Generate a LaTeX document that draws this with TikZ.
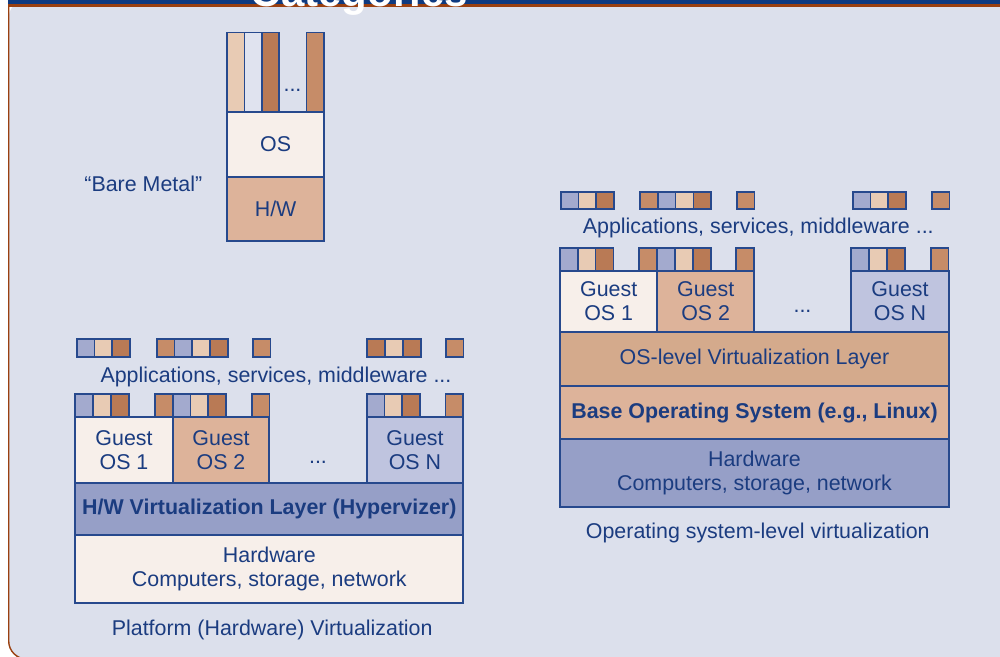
\documentclass[tikz,border=0pt]{standalone}
\usepackage{fontspec}
\setmainfont{Liberation Sans}
\usetikzlibrary{positioning}

\definecolor{bgpanel}{HTML}{DCE0EC}
\definecolor{hdrblue}{HTML}{0E3A80}
\definecolor{frame}{HTML}{9A4010}
\definecolor{edge}{HTML}{27498D}
\definecolor{ink}{HTML}{1B3C80}
\definecolor{cellblue}{HTML}{A3AACE}
\definecolor{cellpeach}{HTML}{E8CBB4}
\definecolor{celldark}{HTML}{B97A55}
\definecolor{celllight}{HTML}{C68C68}
\definecolor{pale}{HTML}{E0E3EF}
\definecolor{cream}{HTML}{F7EFEA}
\definecolor{salmon}{HTML}{DDB39A}
\definecolor{clay}{HTML}{D4AA8C}
\definecolor{steel}{HTML}{969FC7}
\definecolor{lilac}{HTML}{BFC4DF}

\begin{document}
\begin{tikzpicture}[x=0.5pt, y=-0.5pt,
    font=\fontsize{10.7}{12}\selectfont, text=ink,
    cell/.style={draw=edge, line width=0.85pt, inner sep=0pt, outer sep=0pt,
      minimum width=8.9pt, anchor=north west},
    layer/.style={draw=edge, line width=0.85pt, inner sep=0pt, outer sep=0pt,
      align=center},
    caption/.style={anchor=base}]

    % Panel

    \fill[white] (0,0) rectangle (1000,657);
    \useasboundingbox (0,0) rectangle (1000,657);
    \fill[bgpanel, rounded corners=9pt] (8.7,0) rectangle (1030,659);
    \draw[frame, line width=0.7pt, rounded corners=9pt] (8.7,7) -- (8.7,659) -- (1030,659);
    \fill[hdrblue] (8,0) rectangle (1000,4.3);
    \fill[frame] (8,4.3) rectangle (1000,7.3);
    \node[font=\bfseries\fontsize{21}{24}\selectfont, text=white, anchor=base]
      (title) at (359.5,7) {Categories};

    % Bare metal

    \foreach \x/\c [count=\i] in {227.3/cellpeach, 244.6/pale, 261.9/celldark, 306.6/celllight}
      \node[cell, fill=\c, minimum width=8.65pt, minimum height=39.75pt] (bar\i) at (\x,32.5) {}; %
    \node[caption] (dotsbm) at (292.5,91.5) {...}; %
    \node[layer, fill=cream, anchor=north west, minimum width=48.3pt, minimum height=32.5pt]
      (os) at (227.3,112) {OS}; %
    \node[layer, fill=salmon, minimum width=48.3pt, minimum height=32pt, below=0pt of os]
      (hw) {H/W}; %
    \node[caption] (baremetal) at (143.3,191.7) {``Bare Metal''}; %

    % Platform (hardware) virtualization

    \foreach \x/\c [count=\i] in {76.7/cellblue, 94.5/cellpeach, 112.3/celldark,
        156.7/celllight, 174.5/cellblue, 192.3/cellpeach, 210.1/celldark,
        252.7/celllight, 367.3/celldark, 385.1/cellpeach, 402.9/celldark, 445.7/celllight}
      \node[cell, fill=\c, minimum height=9pt] (papp\i) at (\x,339.3) {}; %
    \node[caption] (appsp) at (276,382.7) {Applications, services, middleware ...}; %

    \foreach \x/\c [count=\i] in {75.3/cellblue, 93.1/cellpeach, 110.9/celldark, 155.3/celllight,
        172.7/cellblue, 190.5/cellpeach, 208.3/celldark, 251.7/celllight,
        366.7/cellblue, 384.5/cellpeach, 402.3/celldark, 445.5/celllight}
      \node[cell, fill=\c, minimum height=11.5pt] (pguestapp\i) at (\x,394.3) {}; %

    \node[layer, fill=cream, anchor=north west, minimum width=48.7pt, minimum height=33pt]
      (pg1) at (75.3,417.3) {Guest\\OS 1}; %
    \node[layer, fill=salmon, minimum width=48.3pt, minimum height=33pt, right=0pt of pg1]
      (pg2) {Guest\\OS 2}; %
    \node[layer, fill=lilac, anchor=north west, minimum width=48.3pt, minimum height=33pt]
      (pgn) at (366.7,417.3) {Guest\\OS N}; %
    \node[caption] (dotsp) at (318,463.5) {...}; %

    \node[layer, fill=steel, anchor=north west, minimum width=194pt, minimum height=26pt,
      font=\bfseries\fontsize{10.7}{12}\selectfont]
      (hyp) at (pg1.south west) {H/W Virtualization Layer (Hypervizer)}; %
    \node[layer, fill=cream, minimum width=194pt, minimum height=34pt, below=0pt of hyp]
      (hwp) {Hardware\\Computers, storage, network}; %
    \node[caption] (capp) at (272.2,635) {Platform (Hardware) Virtualization}; %

    % Operating system-level virtualization

    \foreach \x/\c [count=\i] in {560.7/cellblue, 578.5/cellpeach, 596.3/celldark,
        640/celllight, 657.8/cellblue, 675.6/cellpeach, 693.4/celldark,
        736.7/celllight, 852.7/cellblue, 870.5/cellpeach, 888.3/celldark, 931.7/celllight}
      \node[cell, fill=\c, minimum height=8.8pt] (oapp\i) at (\x,191.7) {}; %
    \node[caption] (appso) at (758.3,233.3) {Applications, services, middleware ...}; %

    \foreach \x/\c [count=\i] in {560/cellblue, 577.8/cellpeach, 595.6/celldark, 639.3/celllight,
        657.3/cellblue, 675.1/cellpeach, 692.9/celldark, 736/celllight,
        851.3/cellblue, 869.1/cellpeach, 886.9/celldark, 930.7/celllight}
      \node[cell, fill=\c, minimum height=11.2pt] (oguestapp\i) at (\x,248.3) {}; %

    \node[layer, fill=cream, anchor=north west, minimum width=48.65pt, minimum height=30.5pt]
      (og1) at (560,270.7) {Guest\\OS 1}; %
    \node[layer, fill=salmon, minimum width=48.35pt, minimum height=30.5pt, right=0pt of og1]
      (og2) {Guest\\OS 2}; %
    \node[layer, fill=lilac, anchor=north west, minimum width=48.7pt, minimum height=30.5pt]
      (ogn) at (851.3,270.7) {Guest\\OS N}; %
    \node[caption] (dotso) at (802.5,313) {...}; %

    \node[layer, fill=clay, anchor=north west, minimum width=194.5pt, minimum height=27.15pt]
      (oslayer) at (og1.south west) {OS-level Virtualization Layer}; %
    \node[layer, fill=salmon, minimum width=194.5pt, minimum height=26.65pt, below=0pt of oslayer,
      font=\bfseries\fontsize{10.7}{12}\selectfont]
      (baseos) {Base Operating System (e.g., Linux)}; %
    \node[layer, fill=steel, minimum width=194.5pt, minimum height=34pt, below=0pt of baseos]
      (hwo) {Hardware\\Computers, storage, network}; %
    \node[caption] (capo) at (757.8,538.3) {Operating system-level virtualization}; %

\end{tikzpicture}
\end{document}
